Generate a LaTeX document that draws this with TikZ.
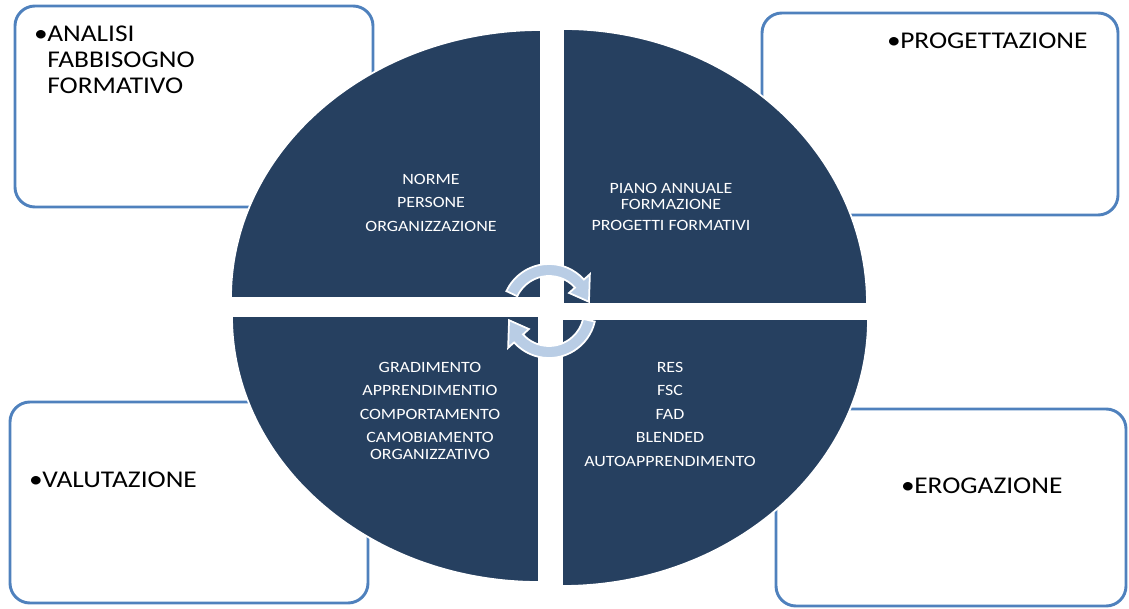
\documentclass[tikz,border=0pt]{standalone}
\usepackage{fontspec}
\setmainfont{Carlito}
\newfontfamily\calib[FakeStretch=1.14]{Carlito}
\definecolor{navy}{RGB}{38,64,96}
\definecolor{frameblue}{RGB}{79,129,189}
\definecolor{cycleblue}{RGB}{185,205,229}
\newcommand{\bigtxt}{\calib\fontsize{20.5}{22}\selectfont}
\newcommand{\smalltxt}{\calib\fontsize{13.4}{14}\selectfont}
\newcommand{\bul}{•\kern-0.5pt}

\begin{document}
\begin{tikzpicture}[x=0.03cm, y=0.03cm,
  frame/.style = {draw=frameblue, line width=2.5pt, rounded corners=17pt, fill=white},
  quad/.style = {fill=navy, draw=white, line width=1.5pt},
  cyc/.style = {fill=cycleblue, draw=white, line width=1.5pt},
  head/.style = {font=\bigtxt, inner sep=0pt, align=left},
  lab/.style = {font=\smalltxt, text=white, inner sep=0pt, align=center}]
\useasboundingbox (0,0) rectangle (1129,608);
% outer boxes
\draw[frame] (15,401) rectangle (373,602);
\draw[frame] (762,393) rectangle (1118,595);
\draw[frame] (10,5) rectangle (368,206);
\draw[frame] (776,2) rectangle (1126,199);
\node[head, anchor=north west] (analisi) at (34,582) {\bul ANALISI\\\phantom{\bul}FABBISOGNO\\\phantom{\bul}FORMATIVO};
\node[head, anchor=west] (progett) at (887,567) {\bul PROGETTAZIONE};
\node[head, anchor=west] (valut) at (29,128) {\bul VALUTAZIONE};
\node[head, anchor=west] (erog) at (901,122) {\bul EROGAZIONE};

% quarters of the circle
\foreach \cx/\cy/\a/\rx/\ry in {541/310/90/310/268, 563/304/0/304/275, 539/292/180/307/266, 562/289/270/306/267} {
  \filldraw[quad] (\cx,\cy) -- ++({\a}:{\rx} and {\ry}) arc[start angle=\a, end angle=\a+90, x radius=\rx, y radius=\ry] -- cycle;
}
\node[lab, anchor=north] (norme) at (431,434) {NORME\\[6pt]PERSONE\\[6pt]ORGANIZZAZIONE};
\node[lab, anchor=north] (piano) at (671,425) {PIANO ANNUALE\\FORMAZIONE\\[4pt]PROGETTI FORMATIVI};
\node[lab, anchor=north] (gradim) at (430,246) {GRADIMENTO\\[6pt]APPRENDIMENTIO\\[6pt]COMPORTAMENTO\\[6pt]CAMOBIAMENTO\\ORGANIZZATIVO};
\node[lab, anchor=north] (res) at (670,246) {RES\\[6pt]FSC\\[6pt]FAD\\[6pt]BLENDED\\[6pt]AUTOAPPRENDIMENTO};

% cycle arrows
\begin{scope}[shift={(549,297)}]
\filldraw[cyc] (155:47) arc[start angle=155, end angle=42, radius=47] -- (42:55) -- (13:41) -- (42:27) -- (42:35) arc[start angle=42, end angle=155, radius=35] -- cycle;
\filldraw[cyc] (-13:47) arc[start angle=-13, end angle=-138, radius=47] -- (-138:55) -- (-167:41) -- (-138:27) -- (-138:35) arc[start angle=-138, end angle=-13, radius=35] -- cycle;
\end{scope}
\end{tikzpicture}
\end{document}
